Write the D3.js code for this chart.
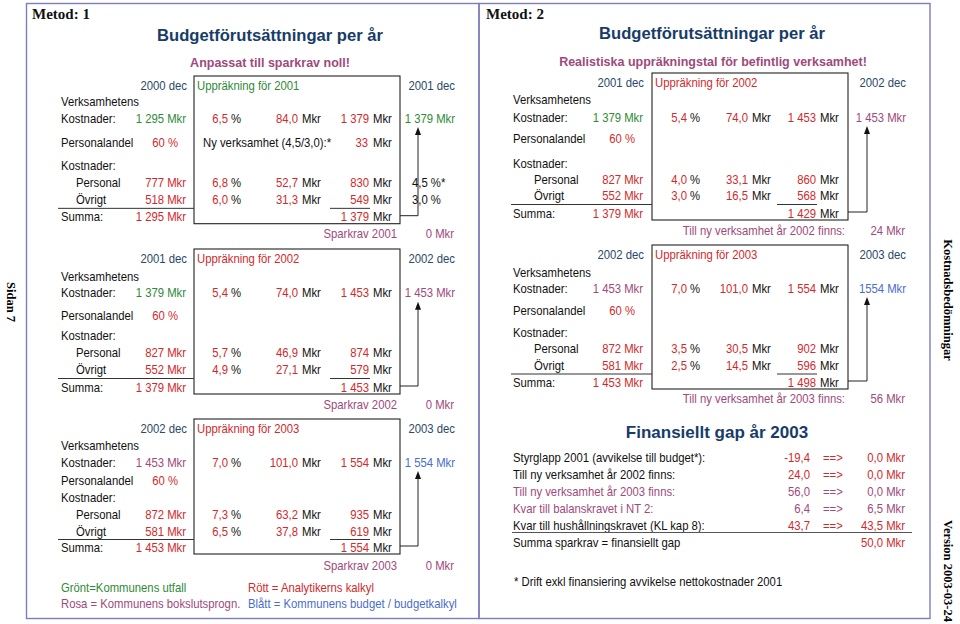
<!DOCTYPE html>
<html><head><meta charset="utf-8">
<script src="https://cdn.jsdelivr.net/npm/d3@7"></script>
<style>body{margin:0;background:#fff}svg{display:block}</style>
</head><body><svg id="c" width="960" height="624"></svg>
<script>
// ---------------- DATA ----------------
// Metod 1 (three years)
const m1HdrL = ["2000 dec","2001 dec","2002 dec"];
const m1HdrR = ["2001 dec","2002 dec","2003 dec"];
const m1UpYear = ["2001","2002","2003"];
const m1Start = [1295, 1379, 1453];
const m1StartSrc = ["g","g","p"];
const m1Rate = [6.5, 5.4, 7.0];
const m1Incr = [84.0, 74.0, 101.0];
const m1End = [1379, 1453, 1554];
const m1EndSrc = ["g","p","b"];
const m1Share = [60, 60, 60];
const m1PersStart = [777, 827, 872];
const m1PersRate = [6.8, 5.7, 7.3];
const m1PersIncr = [52.7, 46.9, 63.2];
const m1PersEnd = [830, 874, 935];
const m1OvrStart = [518, 552, 581];
const m1OvrRate = [6.0, 4.9, 6.5];
const m1OvrIncr = [31.3, 27.1, 37.8];
const m1OvrEnd = [549, 579, 619];
const m1SumStart = [1295, 1379, 1453];
const m1SumEnd = [1379, 1453, 1554];
const m1Sparkrav = [0, 0, 0];
const m1NewAct = 33;
const m1Targets = [4.5, 3.0];

// Metod 2 (two years)
const m2HdrL = ["2001 dec","2002 dec"];
const m2HdrR = ["2002 dec","2003 dec"];
const m2UpYear = ["2002","2003"];
const m2Start = [1379, 1453];
const m2StartSrc = ["g","p"];
const m2Rate = [5.4, 7.0];
const m2Incr = [74.0, 101.0];
const m2End = [1453, 1554];
const m2EndSrc = ["p","b"];
const m2Share = [60, 60];
const m2PersStart = [827, 872];
const m2PersRate = [4.0, 3.5];
const m2PersIncr = [33.1, 30.5];
const m2PersEnd = [860, 902];
const m2OvrStart = [552, 581];
const m2OvrRate = [3.0, 2.5];
const m2OvrIncr = [16.5, 14.5];
const m2OvrEnd = [568, 596];
const m2SumStart = [1379, 1453];
const m2SumEnd = [1429, 1498];
const m2NewAct = [24, 56];

// Finansiellt gap 2003
const gapLabels = ["Styrglapp 2001 (avvikelse till budget*):","Till ny verksamhet år 2002 finns:","Till ny verksamhet år 2003 finns:","Kvar till balanskravet i NT 2:","Kvar till hushållningskravet (KL kap 8):"];
const gapFrom = [-19.4, 24.0, 56.0, 6.4, 43.7];
const gapTo = [0.0, 0.0, 0.0, 6.5, 43.5];
const gapSrc = ["r","r","p","p","r"];
const gapLabelSrc = ["k","k","p","p","k"];
const gapTotal = 50.0;

// ---------------- STYLE / LAYOUT ----------------
const COL = {g:"#2f8a37", r:"#d02a2c", p:"#9e4a7c", b:"#4a6dcc", k:"#111", navy:"#2a4869", title:"#173c68", frame:"#7c7cbe"};
const SANS = "'Liberation Sans', Arial, sans-serif";
const SERIF = "'Liberation Serif', 'Times New Roman', serif";
const FS = 13;
const SX = 0.87;

const loc = d3.formatLocale({decimal:",", thousands:" ", grouping:[3], currency:["",""], minus:"-"});
const fInt = loc.format(",.0f");
const fPlain = loc.format(".0f");
const fDec = loc.format(".1f");

const svg = d3.select("#c");
const rowKeys = ["hdr","verk","kost","pers","kost2","personal","ovr","summa","foot"];

function T(g, x, y, s, o={}) {
  const sx = o.sx ?? SX;
  return g.append("text")
    .attr("transform", `translate(${x},${y + (o.base ?? 4.5)}) scale(${sx},1)`)
    .attr("text-anchor", o.a || "start")
    .attr("fill", o.c || COL.k)
    .attr("font-family", o.f || SANS)
    .attr("font-size", o.s || FS)
    .attr("font-weight", o.w || "normal")
    .text(s);
}

function block(g, X, Y, d) {
  const y = k => Y(k);
  g.append("rect").attr("x", X("boxL")).attr("y", y("hdr") - 9)
    .attr("width", X("boxR") - X("boxL")).attr("height", y("summa") + 7 - (y("hdr") - 9))
    .attr("fill","none").attr("stroke","#222").attr("stroke-width",1.1);
  T(g, X("c1") + 1, y("hdr"), d.hdrL, {a:"end", c:COL.navy});
  T(g, X("boxL") + 3, y("hdr"), "Uppräkning för " + d.upYear, {c:d.upC});
  T(g, X("c5"), y("hdr"), d.hdrR, {a:"end", c:COL.navy});
  T(g, X("lab"), y("verk"), "Verksamhetens");
  T(g, X("lab"), y("kost"), "Kostnader:");
  T(g, X("c1"), y("kost"), fInt(d.start) + " Mkr", {a:"end", c:COL[d.startSrc]});
  const trio = (row, rate, incr, end) => {
    T(g, X("c2"), y(row), fDec(rate), {a:"end", c:COL.r});
    T(g, X("c2") + 3, y(row), "%");
    T(g, X("c3"), y(row), fDec(incr), {a:"end", c:COL.r});
    T(g, X("c3") + 4, y(row), "Mkr");
    T(g, X("c4"), y(row), fInt(end), {a:"end", c:COL.r});
    T(g, X("c4") + 4, y(row), "Mkr");
  };
  trio("kost", d.rate, d.incr, d.end);
  T(g, X("c5"), y("kost"), (d.endGroup ? fInt(d.end) : fPlain(d.end)) + " Mkr", {a:"end", c:COL[d.endSrc]});
  T(g, X("lab"), y("pers"), "Personalandel");
  T(g, X("c1") - 8, y("pers"), fPlain(d.share) + " %", {a:"end", c:COL.r});
  T(g, X("lab"), y("kost2"), "Kostnader:");
  T(g, X("sub"), y("personal"), "Personal");
  T(g, X("c1"), y("personal"), fInt(d.pS) + " Mkr", {a:"end", c:COL.r});
  trio("personal", d.pR, d.pI, d.pE);
  T(g, X("sub"), y("ovr"), "Övrigt");
  T(g, X("c1"), y("ovr"), fInt(d.oS) + " Mkr", {a:"end", c:COL.r});
  trio("ovr", d.oR, d.oI, d.oE);
  T(g, X("lab"), y("summa"), "Summa:");
  T(g, X("c1"), y("summa"), fInt(d.sS) + " Mkr", {a:"end", c:COL.r});
  T(g, X("c4"), y("summa"), fInt(d.sE), {a:"end", c:COL.r});
  T(g, X("c4") + 4, y("summa"), "Mkr");
  T(g, X("footL"), y("foot"), d.footLabel, {a:"end", c:COL.p});
  T(g, X("c5") - 1, y("foot"), fPlain(d.footVal) + " Mkr", {a:"end", c:COL.p});
  const ul = (y("ovr") + y("summa")) / 2 + 0.5;
  g.append("line").attr("x1", X("ulL")).attr("x2", X("boxL")).attr("y1", ul).attr("y2", ul).attr("stroke","#333").attr("stroke-width",1);
  g.append("line").attr("x1", X("c4") - 39).attr("x2", X("c4") + 1).attr("y1", ul).attr("y2", ul).attr("stroke","#333").attr("stroke-width",1);
  const ay = y("summa") - 1, tip = y("kost") + 9, ax = X("arrow");
  g.append("path").attr("d", `M${X("boxR")},${ay}H${ax}V${tip + 6}`).attr("fill","none").attr("stroke","#222").attr("stroke-width",1);
  g.append("path").attr("d", `M${ax},${tip}L${ax - 3},${tip + 8}L${ax + 3},${tip + 8}Z`).attr("fill","#111");
}

// frames
svg.append("rect").attr("x",26.5).attr("y",3.5).attr("width",452.5).attr("height",615).attr("fill","none").attr("stroke",COL.frame).attr("stroke-width",1.4);
svg.append("rect").attr("x",479).attr("y",3.5).attr("width",451).attr("height",615).attr("fill","none").attr("stroke",COL.frame).attr("stroke-width",1.4);

// side labels
const side = svg.append("g");
side.append("text").attr("transform","translate(7,302) rotate(90)").attr("text-anchor","middle")
  .attr("font-family",SERIF).attr("font-weight","bold").attr("font-size",12.5).text("Sidan 7");
side.append("text").attr("transform","translate(944,300) rotate(90)").attr("text-anchor","middle")
  .attr("font-family",SERIF).attr("font-weight","bold").attr("font-size",12.5).text("Kostnadsbedömningar");
side.append("text").attr("transform","translate(944,571) rotate(90)").attr("text-anchor","middle")
  .attr("font-family",SERIF).attr("font-weight","bold").attr("font-size",12.5).text("Version 2003-03-24");

// ---------------- LEFT PANEL (Metod 1) ----------------
const L = svg.append("g");
T(L, 32, 14, "Metod: 1", {f:SERIF, w:"bold", s:15, base:5, sx:1});
T(L, 270, 35, "Budgetförutsättningar per år", {a:"middle", c:COL.title, s:16.6, w:"bold", base:6, sx:1});
T(L, 270, 62, "Anpassat till sparkrav noll!", {a:"middle", c:COL.p, s:12.5, w:"bold", base:4.5, sx:1});

const XL = d3.scaleOrdinal()
  .domain(["lab","sub","c1","c2","c3","c4","c5","arrow","boxL","boxR","ulL","footL"])
  .range([61, 76, 186, 228, 298, 369, 455, 418, 194, 400, 58, 397]);
const m1Rows = [
  [85,101.7,118,142,165,182.7,199,216.7,233],
  [258,276,292.7,315,335,352,369,387,404],
  [428,445,462,480,497,514,531,547,565]
];
m1Start.forEach((_, i) => {
  const Y = d3.scaleOrdinal().domain(rowKeys).range(m1Rows[i]);
  block(L, XL, Y, {
    hdrL: m1HdrL[i], hdrR: m1HdrR[i], upYear: m1UpYear[i], upC: i === 0 ? COL.g : COL.r,
    start: m1Start[i], startSrc: m1StartSrc[i], rate: m1Rate[i], incr: m1Incr[i], end: m1End[i], endSrc: m1EndSrc[i], endGroup: true,
    share: m1Share[i], pS: m1PersStart[i], pR: m1PersRate[i], pI: m1PersIncr[i], pE: m1PersEnd[i],
    oS: m1OvrStart[i], oR: m1OvrRate[i], oI: m1OvrIncr[i], oE: m1OvrEnd[i], sS: m1SumStart[i], sE: m1SumEnd[i],
    footLabel: "Sparkrav " + m1UpYear[i], footVal: m1Sparkrav[i]
  });
  if (i === 0) {
    T(L, XL("boxL") + 9, Y("pers"), "Ny verksamhet (4,5/3,0):*");
    T(L, XL("c4") - 1, Y("pers"), fPlain(m1NewAct), {a:"end", c:COL.r});
    T(L, XL("c4") + 4, Y("pers"), "Mkr");
    T(L, 412, Y("personal"), fDec(m1Targets[0]) + " %*");
    T(L, 412, Y("ovr"), fDec(m1Targets[1]) + " %");
  }
});
T(L, 61, 587, "Grönt=Kommunens utfall", {c:COL.g});
T(L, 248, 587, "Rött = Analytikerns kalkyl", {c:COL.r});
T(L, 61, 603, "Rosa = Kommunens bokslutsprogn.", {c:COL.p});
T(L, 248, 603, "Blått = Kommunens budget / budgetkalkyl", {c:COL.b});

// ---------------- RIGHT PANEL (Metod 2) ----------------
const R = svg.append("g");
T(R, 486, 14, "Metod: 2", {f:SERIF, w:"bold", s:15, base:5, sx:1});
T(R, 712, 33, "Budgetförutsättningar per år", {a:"middle", c:COL.title, s:16.6, w:"bold", base:6, sx:1});
T(R, 713, 61, "Realistiska uppräkningstal för befintlig verksamhet!", {a:"middle", c:COL.p, s:12.5, w:"bold", base:4.5, sx:1});

const XR = d3.scaleOrdinal()
  .domain(["lab","sub","c1","c2","c3","c4","c5","arrow","boxL","boxR","ulL","footL"])
  .range([513, 534, 643, 687, 748, 816, 906, 867, 652, 848, 511, 845]);
const m2Rows = [
  [82,99,117,138,163,179,195,213,230],
  [254,272,288,310,332,348,365,382,398]
];
m2Start.forEach((_, i) => {
  const Y = d3.scaleOrdinal().domain(rowKeys).range(m2Rows[i]);
  block(R, XR, Y, {
    hdrL: m2HdrL[i], hdrR: m2HdrR[i], upYear: m2UpYear[i], upC: COL.r,
    start: m2Start[i], startSrc: m2StartSrc[i], rate: m2Rate[i], incr: m2Incr[i], end: m2End[i], endSrc: m2EndSrc[i], endGroup: i === 0,
    share: m2Share[i], pS: m2PersStart[i], pR: m2PersRate[i], pI: m2PersIncr[i], pE: m2PersEnd[i],
    oS: m2OvrStart[i], oR: m2OvrRate[i], oI: m2OvrIncr[i], oE: m2OvrEnd[i], sS: m2SumStart[i], sE: m2SumEnd[i],
    footLabel: "Till ny verksamhet år " + m2UpYear[i] + " finns:", footVal: m2NewAct[i]
  });
});

// Finansiellt gap
T(R, 717, 432, "Finansiellt gap år 2003", {a:"middle", c:COL.title, s:17, w:"bold", base:6, sx:1});
const gapY = d3.scaleBand().domain(d3.range(gapLabels.length)).range([448.5, 533.5]);
const gx = d3.scaleOrdinal().domain(["lab","num","arr","val"]).range([513, 810, 823, 905]);
gapLabels.forEach((lab, i) => {
  const yy = gapY(i) + gapY.bandwidth() / 2;
  T(R, gx("lab"), yy, lab, {c:COL[gapLabelSrc[i]]});
  T(R, gx("num"), yy, fDec(gapFrom[i]), {a:"end", c:COL[gapSrc[i]]});
  T(R, gx("arr"), yy, "==>", {c:COL[gapSrc[i]]});
  T(R, gx("val"), yy, fDec(gapTo[i]) + " Mkr", {a:"end", c:COL[gapSrc[i]]});
});
R.append("line").attr("x1",512).attr("x2",912).attr("y1",532.5).attr("y2",532.5).attr("stroke","#555").attr("stroke-width",1.2);
T(R, gx("lab"), 542, "Summa sparkrav = finansiellt gap");
T(R, gx("val"), 542, fDec(gapTotal) + " Mkr", {a:"end", c:COL.r});
T(R, 514, 581, "* Drift exkl finansiering avvikelse nettokostnader 2001");
</script></body></html>
